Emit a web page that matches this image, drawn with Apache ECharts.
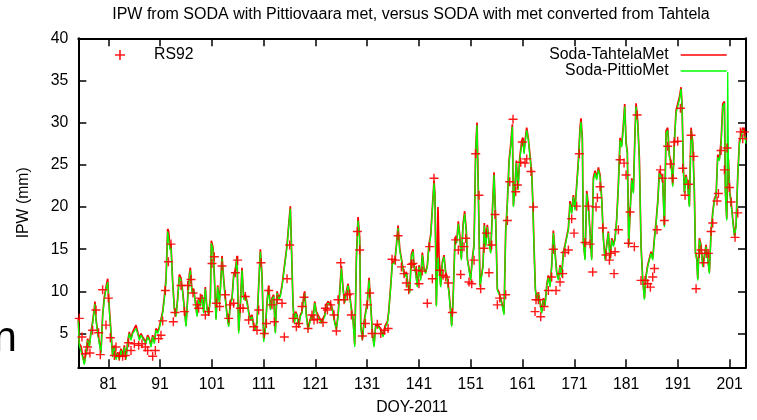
<!DOCTYPE html>
<html><head><meta charset="utf-8">
<script src="https://cdn.jsdelivr.net/npm/echarts@6/dist/echarts.min.js"></script>
<style>html,body{margin:0;padding:0;background:#fff}#c{width:757px;height:420px}</style>
</head><body><div id="c"></div>
<script>
// ---- tick labels ----
const xTicks = [81, 91, 101, 111, 121, 131, 141, 151, 161, 171, 181, 191, 201];
const yTicks = [5, 10, 15, 20, 25, 30, 35, 40];

// ---- SODA model series (shared DOY grid) ----
const sodaDoy = [
75.21,75.40,75.73,76.05,76.37,76.69,77.01,77.34,77.66,77.98,
78.30,78.43,78.62,78.95,79.27,79.59,79.91,80.23,80.56,80.88,
81.20,81.52,81.84,82.17,82.49,82.81,83.13,83.45,83.77,84.10,
84.42,84.74,85.06,85.38,85.71,86.03,86.35,86.67,86.99,87.32,
87.64,87.96,88.28,88.60,88.93,89.25,89.57,89.89,90.21,90.54,
90.86,91.18,91.50,91.82,92.15,92.47,92.66,92.92,93.11,93.43,
93.76,94.08,94.40,94.72,95.04,95.37,95.69,96.01,96.33,96.65,96.85,
97.17,97.49,97.81,98.13,98.45,98.78,99.10,99.42,99.74,100.06,
100.39,100.71,100.90,101.22,101.48,101.80,102.12,102.45,102.64,102.96,
103.28,103.61,103.93,104.25,104.57,104.89,105.21,105.54,105.86,106.18,
106.50,106.82,107.15,107.47,107.79,108.11,108.43,108.76,109.08,109.40,
109.72,110.04,110.37,110.69,111.01,111.33,111.65,111.98,112.30,112.62,
112.94,113.26,113.59,113.91,114.23,114.55,114.87,115.20,115.52,115.84,
116.16,116.42,116.68,116.93,117.19,117.45,117.77,118.09,118.41,
118.61,118.93,119.25,119.57,119.89,120.22,120.54,120.86,121.18,121.50,
121.83,122.15,122.47,122.79,123.11,123.44,123.76,124.08,124.40,124.72,
125.05,125.37,125.69,126.01,126.33,126.65,126.98,127.30,127.62,127.94,
128.26,128.59,128.91,129.23,129.55,129.75,130.07,130.39,130.71,131.03,
131.36,131.68,132.00,132.32,132.64,133.09,133.61,134.06,134.51,134.90,
135.15,135.54,135.86,136.31,136.64,136.96,137.28,137.60,137.92,138.25,
138.57,138.89,139.21,139.53,139.85,
140.04,140.36,140.68,141.00,141.32,141.65,141.97,142.29,142.61,142.93,
143.26,143.58,143.90,144.09,144.35,144.67,144.87,145.19,145.51,145.83,
146.15,146.48,146.80,147.12,147.31,147.57,147.96,148.28,148.60,148.86,
149.18,149.50,149.82,150.15,150.34,150.66,150.98,151.30,151.63,151.95,
152.21,152.46,152.79,153.11,153.37,153.62,153.88,154.20,154.52,154.85,
155.17,155.49,155.81,156.13,156.46,156.78,157.10,157.42,157.74,158.07,
158.39,158.71,159.03,159.23,159.55,159.80,160.13,160.45,160.83,161.09,
161.29,
161.48,161.80,162.12,162.44,162.76,162.96,163.21,163.47,163.73,164.05,
164.37,164.70,165.02,165.34,165.66,165.98,166.31,166.63,166.95,167.27,
167.59,167.92,168.24,168.56,168.88,169.20,169.53,169.85,170.17,170.49,
170.81,171.13,171.46,171.78,172.10,172.29,172.55,172.74,173.07,173.39,
173.71,174.03,174.35,174.68,175.00,175.32,175.64,175.96,176.29,176.61,
176.93,177.25,177.57,177.90,178.22,178.54,178.86,179.18,179.50,179.83,
180.15,180.47,180.73,180.99,181.24,181.50,181.76,182.08,182.40,
182.72,182.92,183.24,183.56,183.88,184.20,184.53,184.85,185.17,185.49,
185.81,186.14,186.46,186.78,187.10,187.42,187.75,188.07,188.39,188.71,
189.03,189.36,189.68,190.00,190.32,190.64,190.96,191.29,191.61,191.80,
192.06,192.25,192.57,192.90,193.22,193.54,193.86,194.18,194.38,194.64,
194.83,195.15,195.47,195.79,196.12,196.44,196.76,197.08,197.40,197.73,
198.05,198.37,198.69,199.01,199.34,199.66,199.98,200.17,200.43,200.62,
200.75,201.01,201.27,201.59,201.91,202.23,202.56,202.88,203.20,203.52,
203.84,204.14
];

const pittioIpw = [
6.6,3.6,3.4,2.2,1.3,2.6,4.2,3.4,5.0,6.2,
7.8,8.5,6.6,5.0,3.8,2.6,7.0,9.0,10.2,11.1,
7.8,5.0,2.2,3.4,1.9,2.6,1.9,3.0,2.2,3.4,
1.9,3.8,5.0,4.2,5.0,5.2,5.6,5.0,4.2,4.8,
4.4,4.6,3.8,4.6,4.2,3.4,4.6,3.8,5.4,5.0,
5.6,5.8,7.4,9.0,11.1,17.1,16.9,14.9,15.3,10.9,
7.8,7.0,9.0,11.7,11.3,9.8,7.8,5.8,9.0,11.7,12.5,
9.8,10.1,8.6,7.0,9.0,8.2,9.4,7.4,10.3,7.8,
7.2,9.0,15.7,14.9,11.7,6.6,10.5,8.6,10.1,13.9,
11.3,9.0,7.0,5.8,8.6,9.0,11.7,12.3,13.9,5.0,
8.2,12.5,9.0,9.4,8.6,7.4,6.6,7.0,5.8,5.4,
6.2,10.5,14.7,11.7,4.0,5.4,8.6,10.5,7.8,9.0,
9.4,5.0,9.8,9.0,9.4,10.5,12.1,13.7,15.3,17.7,
19.8,19.6,8.2,6.2,7.4,7.0,5.8,7.0,7.4,
8.6,9.8,7.0,5.4,6.2,7.0,6.6,8.6,7.4,7.0,
6.6,6.2,6.6,7.0,8.2,8.6,8.8,8.2,7.4,6.2,
5.4,7.0,9.8,12.7,10.2,8.6,9.8,10.7,9.4,7.8,
6.6,3.4,13.7,18.4,16.1,5.8,4.2,6.2,7.4,8.6,
11.3,8.2,5.0,3.4,5.8,5.8,5.4,4.6,5.8,6.2,
7.4,10.5,13.3,13.3,15.3,17.5,14.9,13.7,12.5,11.7,
12.1,10.5,9.8,14.1,14.7,
12.9,12.1,10.5,12.9,11.3,14.3,12.5,12.1,12.9,15.3,
16.5,19.6,22.8,21.2,8.2,14.0,14.1,10.5,13.3,14.1,
12.1,11.3,9.7,7.4,5.8,8.6,16.1,15.7,18.0,16.5,
13.7,17.6,19.2,16.9,13.7,12.5,11.3,13.7,15.3,26.7,
29.7,21.6,10.5,10.5,12.9,17.8,15.3,17.6,15.7,14.5,
19.2,23.8,18.4,10.1,9.7,9.0,8.2,7.2,16.9,20.4,
25.2,27.1,29.5,20.0,22.4,25.2,22.0,25.5,27.5,27.9,
26.3,
27.5,29.1,27.9,25.9,24.0,20.8,15.3,10.1,9.0,9.7,
8.6,7.4,9.0,8.2,10.5,11.7,10.5,12.9,16.9,14.5,
12.1,11.3,12.9,11.7,14.5,15.3,15.3,17.3,20.4,19.2,
21.2,19.6,22.4,25.2,29.1,30.1,27.9,15.7,13.7,21.6,
20.0,16.9,13.7,23.2,24.0,23.2,24.4,23.6,20.8,16.1,
13.7,15.3,16.9,13.7,16.1,15.3,16.1,18.4,22.4,27.9,
27.1,29.5,31.9,27.5,26.3,15.3,19.2,23.2,21.6,
28.7,31.9,29.9,25.5,15.3,11.3,9.0,11.7,12.9,13.7,
14.5,13.7,16.1,18.0,20.4,24.0,23.6,22.8,17.6,28.7,
29.1,25.9,25.2,22.4,27.5,31.1,31.9,32.7,34.0,31.9,
24.4,21.6,23.6,22.4,20.0,29.1,27.5,21.6,14.5,13.7,
11.3,16.1,15.3,12.9,14.1,15.3,13.7,12.1,16.9,19.2,
20.8,21.2,25.9,25.5,27.5,31.9,32.3,21.6,18.4,36.0,
25.5,21.6,20.4,18.4,16.5,17.6,23.6,27.5,28.3,29.1,
28.7,27.5
];

const tahtelaIpw = [
6.8,3.8,3.5,2.4,1.5,2.8,4.4,3.6,5.2,6.4,
8.0,8.8,6.8,5.2,4.0,2.8,7.2,9.3,10.5,11.5,
8.0,5.2,2.4,3.6,2.1,2.8,2.1,3.2,2.4,3.6,
2.1,4.0,5.2,4.4,5.2,5.4,6.0,5.2,4.4,5.0,
4.6,4.8,4.0,4.8,4.4,3.6,4.8,4.0,5.6,5.2,
5.8,6.0,7.6,9.3,11.5,17.4,17.1,15.1,15.6,11.2,
8.0,7.2,9.2,12.0,11.6,10.0,8.0,6.0,9.2,12.0,12.8,
10.0,10.3,8.8,7.2,9.2,8.4,9.6,7.6,10.5,8.0,
7.4,9.2,16.0,15.2,11.9,6.8,10.7,8.8,10.3,14.2,
11.5,9.2,7.2,6.0,8.8,9.2,11.9,12.6,14.2,5.3,
8.4,12.8,9.2,9.6,8.8,7.6,6.8,7.2,6.0,5.6,
6.4,10.7,15.0,11.9,4.3,5.6,8.8,10.7,8.0,9.2,
9.6,5.2,10.0,9.2,9.6,10.7,12.3,13.9,15.5,17.9,
20.1,19.9,8.4,6.4,7.6,7.2,6.0,7.2,7.6,
8.8,10.0,7.2,5.6,6.4,7.2,6.8,8.8,7.6,7.2,
6.8,6.4,6.8,7.2,8.4,8.8,9.0,8.4,7.6,6.4,
5.6,7.2,10.0,13.0,10.4,8.8,10.0,10.9,9.6,8.0,
6.8,3.7,14.0,18.8,16.4,6.0,4.4,6.4,7.6,8.8,
11.6,8.4,5.2,3.6,6.0,6.0,5.6,4.8,6.0,6.4,
7.6,10.7,13.5,13.5,15.5,17.8,15.1,13.9,12.7,11.9,
12.3,10.7,10.0,14.4,15.0,
13.1,12.3,10.7,13.1,11.5,14.6,12.7,12.3,13.1,15.6,
16.7,19.9,23.1,21.5,8.4,20.0,14.3,10.7,13.5,14.3,
12.3,11.5,9.9,7.6,6.0,8.8,16.4,15.9,18.3,16.7,
13.9,17.9,19.5,17.1,13.9,12.7,11.5,13.9,15.5,27.0,
30.0,21.8,10.7,10.7,13.1,18.1,15.5,17.9,15.9,14.7,
19.5,24.1,18.6,10.3,9.9,9.2,8.4,7.4,17.1,20.6,
25.5,27.4,29.8,20.2,22.6,25.5,22.2,25.8,27.8,28.2,
26.5,
27.8,29.4,28.1,26.1,24.2,21.0,15.5,10.3,9.2,9.9,
8.8,7.6,9.2,8.4,10.7,11.9,10.7,13.1,17.2,14.7,
12.3,11.5,13.1,11.9,14.7,15.5,15.5,17.5,20.7,19.4,
21.4,19.8,22.7,25.5,29.4,30.5,28.1,15.9,13.9,21.9,
20.2,17.1,13.9,23.5,24.3,23.4,24.7,23.8,21.0,16.3,
13.9,15.5,17.1,13.9,16.3,15.5,16.3,18.6,22.6,28.2,
27.3,29.8,32.2,27.7,26.5,15.5,19.4,23.4,21.8,
29.0,32.3,30.1,25.7,15.5,11.5,9.2,11.9,13.1,13.9,
14.7,13.9,16.3,18.2,20.6,24.3,23.8,23.0,17.8,29.0,
29.4,26.1,25.4,22.6,27.8,31.4,32.2,33.0,34.2,32.1,
24.6,21.8,23.8,22.6,20.2,29.4,27.7,21.8,14.7,13.9,
11.5,16.3,15.5,13.1,14.3,15.5,13.9,12.3,17.1,19.4,
21.0,21.4,26.2,25.7,27.8,32.2,32.5,21.8,18.6,24.0,
25.7,21.8,20.6,18.6,16.7,17.8,23.8,27.8,28.6,29.4,
29.0,27.8
];

// ---- RS92 radiosonde points ----
const rsDoy = [
75.40,75.92,76.56,77.01,77.46,77.98,78.62,79.14,79.46,79.91,
80.56,81.01,81.39,82.17,82.49,83.13,83.77,84.29,84.93,85.38,
86.03,86.87,87.51,88.15,88.60,89.57,90.09,90.73,91.18,91.50,
92.02,92.60,93.11,93.56,93.88,95.04,95.69,96.33,
96.97,97.36,98.13,98.45,98.78,99.74,100.39,101.03,101.48,101.87,
102.51,102.96,103.61,104.25,104.57,105.21,105.54,105.99,106.50,107.02,
107.47,108.11,109.08,109.72,110.04,110.50,111.14,111.53,111.98,112.62,
113.07,113.59,114.55,115.00,115.52,116.03,116.68,117.32,117.77,118.41,
118.80,119.57,120.34,120.73,121.37,122.47,122.92,123.31,123.95,124.59,
125.05,125.37,125.88,126.53,127.17,127.62,127.94,129.10,129.55,130.07,
130.65,131.03,131.48,131.93,132.96,133.61,134.38,135.03,135.80,136.44,
136.96,137.60,138.12,138.57,139.02,139.53,
139.84,140.49,141.00,141.65,142.61,143.06,143.58,143.90,145.00,145.64,
146.15,146.67,147.44,148.08,148.60,149.05,149.69,150.02,150.66,151.18,
151.63,151.95,152.59,152.91,153.56,154.01,154.52,155.04,155.68,156.13,
156.58,157.74,158.07,158.52,159.16,159.68,160.00,160.64,160.96,
161.48,161.80,162.63,163.09,163.41,163.60,164.05,164.50,165.15,165.98,
166.63,166.95,167.46,168.24,168.75,169.20,169.85,170.49,170.94,171.46,
171.97,173.07,173.71,174.03,174.55,175.19,175.45,175.96,176.48,177.12,
177.77,178.02,178.67,178.86,179.50,179.83,180.60,180.99,181.44,181.76,
182.59,183.11,183.88,184.65,185.17,185.68,186.14,186.46,186.97,187.62,
188.07,188.39,189.03,189.55,190.00,190.32,190.96,191.48,191.93,192.38,
193.03,193.54,194.06,194.51,195.15,195.47,195.99,196.44,196.89,197.40,
197.73,198.56,198.82,199.34,199.98,200.49,200.95,201.27,202.04,202.56,
203.07,203.52,203.84
];
const rsIpw = [
6.8,4.6,2.6,3.4,2.7,5.4,7.8,5.1,2.5,10.2,
6.0,9.2,4.5,2.4,3.4,2.3,2.3,2.4,3.9,3.0,
3.8,3.6,3.8,3.4,3.0,2.3,3.0,4.4,4.8,6.5,
10.1,13.5,15.6,6.4,7.5,10.7,7.6,10.7,
11.4,9.8,8.4,8.0,9.2,7.2,7.6,13.3,14.1,8.6,
8.2,13.0,9.6,6.8,8.4,8.6,12.2,13.7,8.0,8.0,
9.4,6.6,5.8,5.4,7.8,13.4,5.0,6.2,10.1,8.4,
6.4,9.0,8.6,4.6,11.5,15.5,6.8,5.8,6.2,8.2,
9.3,5.6,7.2,6.6,6.7,6.3,8.0,7.8,8.4,7.2,
5.3,9.0,13.4,9.0,9.6,9.7,7.2,17.1,14.9,4.7,
6.2,8.4,9.8,5.0,6.1,5.0,5.4,5.6,13.8,13.7,
16.6,12.9,12.1,11.0,10.2,13.2,
13.3,12.5,10.9,12.4,8.6,15.3,11.5,23.4,12.5,11.9,
11.7,11.0,7.5,16.1,14.9,12.0,15.3,16.3,11.1,10.9,
13.7,26.3,21.4,10.3,15.1,16.9,12.2,15.5,19.1,8.4,
9.2,9.6,18.4,23.0,30.4,21.8,22.6,25.3,27.7,
25.2,25.7,24.2,20.0,7.6,9.0,9.0,7.0,8.2,10.1,
11.7,15.0,10.1,11.1,12.1,14.6,14.9,18.6,16.9,20.1,
26.3,15.8,20.1,15.6,12.3,20.0,21.1,22.4,17.5,14.3,
13.7,14.5,12.1,14.7,17.3,25.6,25.2,23.8,15.7,19.4,
15.3,30.9,11.3,11.3,10.9,10.5,11.7,12.7,17.3,24.4,
23.4,18.4,27.2,25.1,23.4,27.7,27.8,31.7,24.6,21.4,
22.7,28.5,26.0,10.3,14.5,14.9,13.4,14.5,14.5,17.1,
18.1,20.7,21.6,26.7,24.4,27.0,22.3,20.6,16.4,19.3,
28.9,28.1,28.9
];

const FONT = "'Liberation Sans', Arial, Helvetica, sans-serif";
const FS = 15.8;
const pittio = sodaDoy.map((d, i) => [d, pittioIpw[i]]);
const tahtela = sodaDoy.map((d, i) => [d, tahtelaIpw[i]]);
const rs = rsDoy.map((d, i) => [d, rsIpw[i]]);
const plus = 'path://M0,4.2L10,4.2L10,5.8L0,5.8Z M4.2,0L5.8,0L5.8,10L4.2,10Z';

const txt = { color: '#000', fontSize: FS, fontFamily: FONT };
const boxLine = { show: true, onZero: false, lineStyle: { color: '#000', width: 2 } };
const tick = (vals) => ({ show: true, inside: true, length: 8, lineStyle: { color: '#000', width: 1.5 }, customValues: vals });

const chart = echarts.init(document.getElementById('c'), null, { renderer: 'canvas' });
chart.setOption({
  animation: false,
  backgroundColor: '#fff',
  grid: { left: 78.3, top: 38.25, right: 11, bottom: 52.7, outerBoundsMode: 'none' },
  graphic: [
    { type: 'text', x: 411, y: 14.7, silent: true,
      style: { text: 'IPW from SODA with Pittiovaara met, versus SODA with met converted from Tahtela',
        font: "16px 'Liberation Sans', Arial, sans-serif", fill: '#000',
        align: 'center', verticalAlign: 'middle', textAlign: 'center', textVerticalAlign: 'middle' } },
    { type: 'text', x: -6.5, y: 339, silent: true,
      style: { text: 'n', font: "42px 'Liberation Sans', Arial, sans-serif", fill: '#000',
        align: 'left', verticalAlign: 'middle', textAlign: 'left', textVerticalAlign: 'middle' } }
  ],
  legend: [
    { data: ['RS92'], left: 115, top: 47, padding: 0, itemWidth: 10, itemHeight: 10, selectedMode: false,
      textStyle: Object.assign({ lineHeight: 16, padding: [0, 0, 0, 24] }, txt) },
    { data: [{ name: 'Soda-TahtelaMet', icon: 'rect' }, { name: 'Soda-PittioMet', icon: 'rect' }],
      orient: 'vertical', right: 30.3, top: 47, padding: 0, align: 'right', itemWidth: 46, itemHeight: 1.5,
      itemGap: 0, selectedMode: false,
      textStyle: Object.assign({ lineHeight: 16, padding: [0, 7, 0, 0] }, txt) }
  ],
  xAxis: [
    { type: 'value', min: 75.21, max: 204.15, position: 'bottom',
      axisLine: boxLine, axisTick: tick(xTicks),
      axisLabel: Object.assign({ customValues: xTicks, margin: 9 }, txt),
      splitLine: { show: false },
      name: 'DOY-2011', nameLocation: 'middle', nameGap: 32.5, nameTextStyle: txt },
    { type: 'value', min: 75.21, max: 204.15, position: 'top',
      axisLine: boxLine, axisTick: tick(xTicks), axisLabel: { show: false }, splitLine: { show: false } }
  ],
  yAxis: [
    { type: 'value', min: 1, max: 40, position: 'left',
      axisLine: boxLine, axisTick: tick(yTicks),
      axisLabel: Object.assign({ customValues: yTicks, margin: 10 }, txt),
      splitLine: { show: false },
      name: 'IPW (mm)', nameLocation: 'middle', nameGap: 47, nameRotate: 90, nameTextStyle: txt },
    { type: 'value', min: 1, max: 40, position: 'right',
      axisLine: boxLine, axisTick: tick(yTicks), axisLabel: { show: false }, splitLine: { show: false } }
  ],
  series: [
    { type: 'line', name: 'Soda-TahtelaMet', data: tahtela, symbol: 'none', showSymbol: false,
      lineStyle: { color: '#ff0000', width: 1.7 }, itemStyle: { color: '#ff0000' }, z: 2 },
    { type: 'line', name: 'Soda-PittioMet', data: pittio, symbol: 'none', showSymbol: false,
      lineStyle: { color: '#00ff00', width: 1.3 }, itemStyle: { color: '#00ff00' }, z: 3 },
    { type: 'scatter', name: 'RS92', data: rs, symbol: plus, symbolSize: 9,
      itemStyle: { color: '#ff0000', opacity: 0.9 }, z: 4 }
  ]
});
</script>
</body></html>
